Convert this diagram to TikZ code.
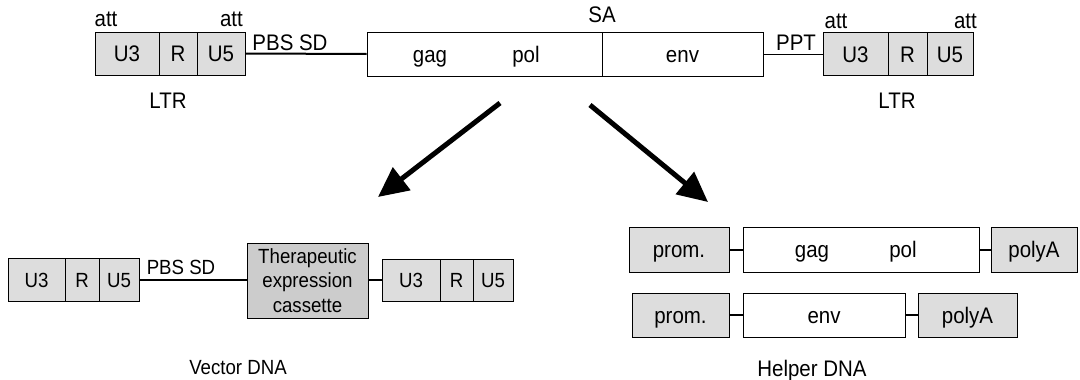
\documentclass[tikz,border=0pt]{standalone}
\usepackage{fontspec}
\setmainfont{Liberation Sans}[FakeStretch=0.91]
\usetikzlibrary{arrows.meta}
\definecolor{segfill}{HTML}{DDDDDD}
\definecolor{cassfill}{HTML}{CCCCCC}
\newcommand\bigtext{\fontsize{22.5}{26}\selectfont}
\newcommand\midtext{\fontsize{20.5}{24.5}\selectfont}
\begin{document}
\begin{tikzpicture}[x=1pt,y=-1pt,
  seg/.style={draw, line width=0.8pt, fill=segfill, inner sep=0pt,
    text height=16pt, text depth=0pt},
  plainseg/.style={seg, fill=white},
  lbl/.style={inner sep=0pt, text height=16pt, text depth=0pt},
  smallseg/.style={seg, text height=14.7pt},
  smalllbl/.style={lbl, text height=14.7pt},
  thickline/.style={line width=2pt},
  thinline/.style={line width=1pt},
  bigarrow/.style={line width=5pt, -{Triangle[length=30pt,width=28pt]}}]
\useasboundingbox (0,0) rectangle (1080,380);

% ---------- provirus ----------
\begin{scope}[font=\bigtext]
\node[seg, minimum width=64pt, minimum height=43pt] (u3a) at (127,53.5) {U3};
\node[seg, minimum width=38pt, minimum height=43pt] (ra) at (178,53.5) {R};
\node[seg, minimum width=48pt, minimum height=43pt] (u5a) at (221,53.5) {U5};
\node[plainseg, minimum width=235pt, minimum height=44pt] (gp) at (484.5,54) {};
\node[plainseg, minimum width=161pt, minimum height=44pt] (env) at (682.5,54) {env};
\node[lbl] (gag) at (430,54) {gag};
\node[lbl] (pol) at (526,54) {pol};
\node[seg, minimum width=65pt, minimum height=43pt] (u3b) at (855.5,54) {U3};
\node[seg, minimum width=39pt, minimum height=43pt] (rb) at (907.5,54) {R};
\node[seg, minimum width=46pt, minimum height=43pt] (u5b) at (950,54) {U5};

\draw[thickline] (u5a.east) -- (gp.west);
\draw[thinline] (env.east) -- (u3b.west);

\node[lbl] (att1) at (106,19) {att};
\node[lbl, anchor=east] (att2) at (243,19) {att};
\node[lbl] (att3) at (836,20) {att};
\node[lbl, anchor=east] (att4) at (977,20) {att};
\node[lbl] (sa) at (602,14) {SA};
\node[lbl] (pbs1) at (290,42) {PBS SD};
\node[lbl] (ppt) at (796,42) {PPT};
\node[lbl] (ltr1) at (168,100) {LTR};
\node[lbl] (ltr2) at (897,100) {LTR};
\end{scope}

% ---------- arrows ----------
\coordinate (a1s) at (500,103);
\coordinate (a1e) at (378,197);
\coordinate (a2s) at (590,105);
\coordinate (a2e) at (708,202);
\draw[bigarrow] (a1s) -- (a1e);
\draw[bigarrow] (a2s) -- (a2e);

% ---------- vector DNA ----------
\begin{scope}[font=\midtext]
\node[smallseg, minimum width=57pt, minimum height=43pt] (u3c) at (36.5,280) {U3};
\node[smallseg, minimum width=34pt, minimum height=43pt] (rc) at (82,280) {R};
\node[smallseg, minimum width=40pt, minimum height=43pt] (u5c) at (119,280) {U5};
\node[draw, line width=0.8pt, fill=cassfill, inner sep=0pt, align=center,
  minimum width=121pt, minimum height=75pt] (cas) at (307.5,280.5)
  {Therapeutic\\expression\\cassette};
\node[smallseg, minimum width=58pt, minimum height=42pt] (u3d) at (411,280) {U3};
\node[smallseg, minimum width=33pt, minimum height=42pt] (rd) at (456.5,280) {R};
\node[smallseg, minimum width=40pt, minimum height=42pt] (u5d) at (493,280) {U5};

\draw[thickline] (u5c.east) -- (u5c.east -| cas.west);
\draw[thickline] (u3d.west -| cas.east) -- (u3d.west);

\node[smalllbl] (pbs2) at (181,267) {PBS SD};
\node[smalllbl] (vec) at (238,367) {Vector DNA};
\end{scope}

% ---------- helper DNA ----------
\begin{scope}[font=\bigtext]
\node[seg, minimum width=100pt, minimum height=45pt] (pr1) at (679,249.5) {prom.};
\node[plainseg, minimum width=236pt, minimum height=45pt] (gp2) at (861,249.5) {};
\node[lbl] (gag2) at (812,249.5) {gag};
\node[lbl] (pol2) at (903,249.5) {pol};
\node[seg, minimum width=86pt, minimum height=45pt] (pa1) at (1034,249.5) {polyA};
\draw[thickline] (pr1.east) -- (gp2.west);
\draw[thickline] (gp2.east) -- (pa1.west);

\node[seg, minimum width=97pt, minimum height=44pt] (pr2) at (680.5,315) {prom.};
\node[plainseg, minimum width=162pt, minimum height=44pt] (env2) at (824,315) {env};
\node[seg, minimum width=99pt, minimum height=44pt] (pa2) at (967.5,315) {polyA};
\draw[thickline] (pr2.east) -- (env2.west);
\draw[thickline] (env2.east) -- (pa2.west);

\node[lbl] (help) at (812,368) {Helper DNA};
\end{scope}
\end{tikzpicture}
\end{document}
